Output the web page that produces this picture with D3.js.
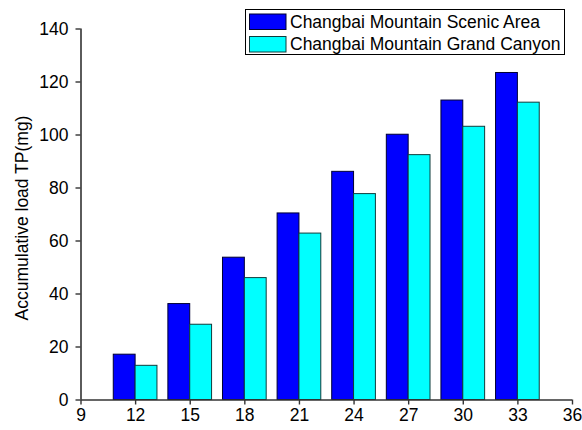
<!DOCTYPE html>
<html><head><meta charset="utf-8">
<script src="https://cdn.jsdelivr.net/npm/d3@7"></script>
<style>body{margin:0;background:#fff}svg{display:block}text{font-family:"Liberation Sans",Arial,sans-serif}</style>
</head><body>
<svg id="chart" width="582" height="430"></svg>
<script>
const categories = [12, 15, 18, 21, 24, 27, 30, 33];
const scenicArea = [17.1, 36.2, 53.7, 70.4, 86.1, 100.1, 113.0, 123.4];
const grandCanyon = [12.9, 28.4, 46.0, 62.8, 77.7, 92.4, 103.1, 112.2];
const xTicks = [9, 12, 15, 18, 21, 24, 27, 30, 33, 36];
const yTicks = [0, 20, 40, 60, 80, 100, 120, 140];
const seriesNames = ["Changbai Mountain Scenic Area", "Changbai Mountain Grand Canyon"];
const yLabel = "Accumulative load TP(mg)";

const svg = d3.select("#chart");
const x = d3.scaleLinear().domain([9, 36]).range([80.5, 572]);
const y = d3.scaleLinear().domain([0, 140]).range([399.5, 28.5]);
const barW = 1.2;
const axisColor = "#333";
const fs = "17.5px";

const series = [
  {name: seriesNames[0], values: scenicArea, fill: "#0000ff", stroke: "#000033", off: -barW},
  {name: seriesNames[1], values: grandCanyon, fill: "#00ffff", stroke: "#103c3c", off: 0}
];

series.forEach(s => {
  svg.append("g").selectAll("rect").data(categories).join("rect")
    .attr("x", (c) => x(c + s.off))
    .attr("width", (c) => x(c + s.off + barW) - x(c + s.off))
    .attr("y", (c, i) => y(s.values[i]))
    .attr("height", (c, i) => y(0) - y(s.values[i]))
    .attr("fill", s.fill).attr("stroke", s.stroke).attr("stroke-width", 1);
});

const xAxis = svg.append("g").attr("transform", `translate(0,${y(0)})`)
  .call(d3.axisBottom(x).tickValues(xTicks).tickSize(5).tickPadding(4).tickFormat(d3.format("d")));
const yAxis = svg.append("g").attr("transform", `translate(${x(9)},0)`)
  .call(d3.axisLeft(y).tickValues(yTicks).tickSize(5).tickPadding(7).tickFormat(d3.format("d")));
[xAxis, yAxis].forEach(a => {
  a.select(".domain").attr("stroke", axisColor).attr("stroke-width", 1.6);
  a.selectAll(".tick line").attr("stroke", axisColor).attr("stroke-width", 1.4);
  a.selectAll(".tick text").attr("fill", "#000").style("font-size", fs)
   .style("font-family", '"Liberation Sans", Arial, sans-serif');
});
yAxis.select(".domain").attr("d", `M0.5,${y(140)}V${y(0)}`);
xAxis.select(".domain").attr("d", `M${x(9)},0.5H${x(36)}`);

svg.append("text")
  .attr("transform", `translate(28,218) rotate(-90)`)
  .attr("text-anchor", "middle").style("font-size", fs).attr("fill", "#000")
  .text(yLabel);

// legend
const lg = svg.append("g");
lg.append("rect").attr("x", 245.5).attr("y", 9.5).attr("width", 319).attr("height", 45)
  .attr("fill", "#fff").attr("stroke", "#000").attr("stroke-width", 1);
series.forEach((s, i) => {
  const yy = 14 + i * 22.5;
  lg.append("rect").attr("x", 249.5).attr("y", yy).attr("width", 36.5).attr("height", 15.5)
    .attr("fill", s.fill).attr("stroke", s.stroke).attr("stroke-width", 1);
  lg.append("text").attr("x", 290).attr("y", yy + 13.7).style("font-size", fs).attr("fill", "#000").text(s.name);
});
</script>
</body></html>
